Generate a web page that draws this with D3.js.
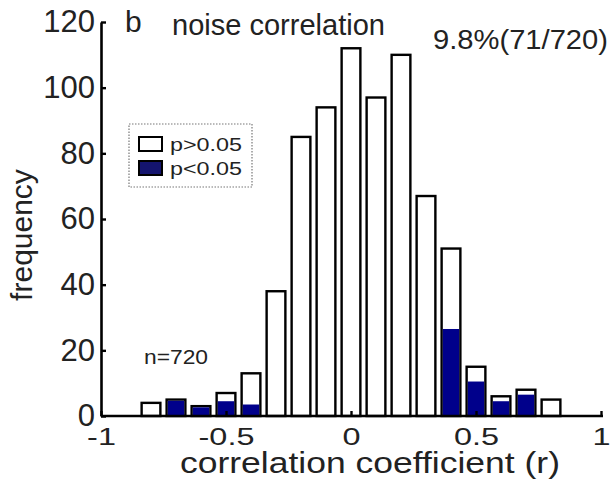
<!DOCTYPE html>
<html>
<head>
<meta charset="utf-8">
<script src="https://cdn.jsdelivr.net/npm/d3@7"></script>
<style>
  body { margin: 0; background: #fff; }
  text { font-family: "Liberation Sans", Arial, sans-serif; fill: #222; }
</style>
</head>
<body>
<svg width="615" height="483"></svg>
<script>
// bin centres and counts
let binCenters = [-0.8, -0.7, -0.6, -0.5, -0.4, -0.3, -0.2, -0.1, 0, 0.1, 0.2, 0.3, 0.4, 0.5, 0.6, 0.7, 0.8]
let totalCounts = [4, 5, 3, 7, 13, 38, 85, 94, 112, 97, 110, 67, 51, 15, 6, 8, 5]
let sigCounts = [0, 5, 3, 4.5, 3.5, 0, 0, 0, 0, 0, 0, 0, 26.5, 10.5, 4.5, 6.5, 0]
let xTicks = [-1, -0.5, 0, 0.5, 1]
let yTicks = [0, 20, 40, 60, 80, 100, 120]
let legendLabels = ["p>0.05", "p<0.05"]

let data = binCenters.map((c, i) => ({ r: c, total: totalCounts[i], sig: sigCounts[i] }))

var svg = d3.select("svg")
var blue = "#00008b"
var sw = 2.4
var barW = 0.075

var x = d3.scaleLinear().domain([-1, 1]).range([101, 601]),
    y = d3.scaleLinear().domain([0, 120]).range([416, 22]);

// bars: outline with total count
svg.selectAll(".bar")
    .data(data)
    .enter().append("rect")
    .attr("class", "bar")
    .attr("x", d => x(d.r - barW / 2))
    .attr("y", d => y(d.total))
    .attr("width", d => x(barW) - x(0))
    .attr("height", d => y(0) - y(d.total))
    .attr("fill", "#fff")
    .attr("stroke", "#000")
    .attr("stroke-width", sw);

// significant part, filled inside the outline
svg.selectAll(".sig")
    .data(data.filter(d => d.sig > 0))
    .enter().append("rect")
    .attr("class", "sig")
    .attr("x", d => x(d.r - barW / 2) + sw / 2)
    .attr("y", d => d.sig >= d.total ? y(d.sig) + sw / 2 : y(d.sig))
    .attr("width", d => x(barW) - x(0) - sw)
    .attr("height", d => (y(0) - y(d.sig)) - (d.sig >= d.total ? sw / 2 : 0))
    .attr("fill", blue);

// axes
var gx = svg.append("g")
    .attr("transform", "translate(0,416)")
    .call(d3.axisBottom(x).tickValues(xTicks).tickSizeInner(-5).tickSizeOuter(0).tickPadding(12)
        .tickFormat(d => String(d)));
gx.select(".domain").attr("stroke-width", 2.6).attr("d", "M101,0H603");
gx.selectAll(".tick line").attr("stroke-width", 2.4);
gx.selectAll(".tick text")
    .attr("font-size", "24px").attr("fill", "#222")
    .attr("transform", "scale(1.35,1)");

var gy = svg.append("g")
    .attr("transform", "translate(101,0)")
    .call(d3.axisLeft(y).tickValues(yTicks).tickSizeInner(-5).tickSizeOuter(0).tickPadding(6));
gy.select(".domain").attr("stroke-width", 2.6);
gy.selectAll(".tick line").attr("stroke-width", 2.4);
gy.selectAll(".tick text").attr("font-size", "31px").attr("fill", "#222");

svg.selectAll(".domain, .tick line").attr("stroke", "#000");
svg.selectAll("g text").attr("font-family", "Liberation Sans, Arial, sans-serif");

// labels
svg.append("text")
    .attr("x", 180).attr("y", 473)
    .attr("font-size", "30px")
    .attr("textLength", 380).attr("lengthAdjust", "spacingAndGlyphs")
    .text("correlation coefficient (r)");

svg.append("text")
    .attr("transform", "translate(32,235) rotate(-90)")
    .attr("text-anchor", "middle")
    .attr("font-size", "30px")
    .text("frequency");

svg.append("text").attr("x", 125).attr("y", 32).attr("font-size", "30px").text("b");
svg.append("text").attr("x", 172).attr("y", 35).attr("font-size", "29px")
    .attr("textLength", 213).attr("lengthAdjust", "spacingAndGlyphs").text("noise correlation");
svg.append("text").attr("x", 433).attr("y", 49).attr("font-size", "27px")
    .attr("textLength", 175).attr("lengthAdjust", "spacingAndGlyphs").text("9.8%(71/720)");
svg.append("text").attr("x", 144).attr("y", 364).attr("font-size", "20px")
    .attr("textLength", 64).attr("lengthAdjust", "spacingAndGlyphs").text("n=720");

// legend
var lg = svg.append("g")
lg.append("rect")
    .attr("x", 129).attr("y", 124).attr("width", 123).attr("height", 63)
    .attr("fill", "#fff").attr("stroke", "#777").attr("stroke-width", 1.2)
    .attr("stroke-dasharray", "1.5,1.5");
lg.selectAll(".key")
    .data(legendLabels)
    .enter().append("rect")
    .attr("x", 139).attr("y", (d, i) => 137 + i * 24)
    .attr("width", 23).attr("height", 14)
    .attr("fill", (d, i) => i === 0 ? "#fff" : "#14146e")
    .attr("stroke", "#000").attr("stroke-width", 2);
lg.selectAll(".lab")
    .data(legendLabels)
    .enter().append("text")
    .attr("x", 170).attr("y", (d, i) => 151 + i * 24)
    .attr("font-size", "19px")
    .attr("textLength", 72).attr("lengthAdjust", "spacingAndGlyphs")
    .text(d => d);
</script>
</body>
</html>
